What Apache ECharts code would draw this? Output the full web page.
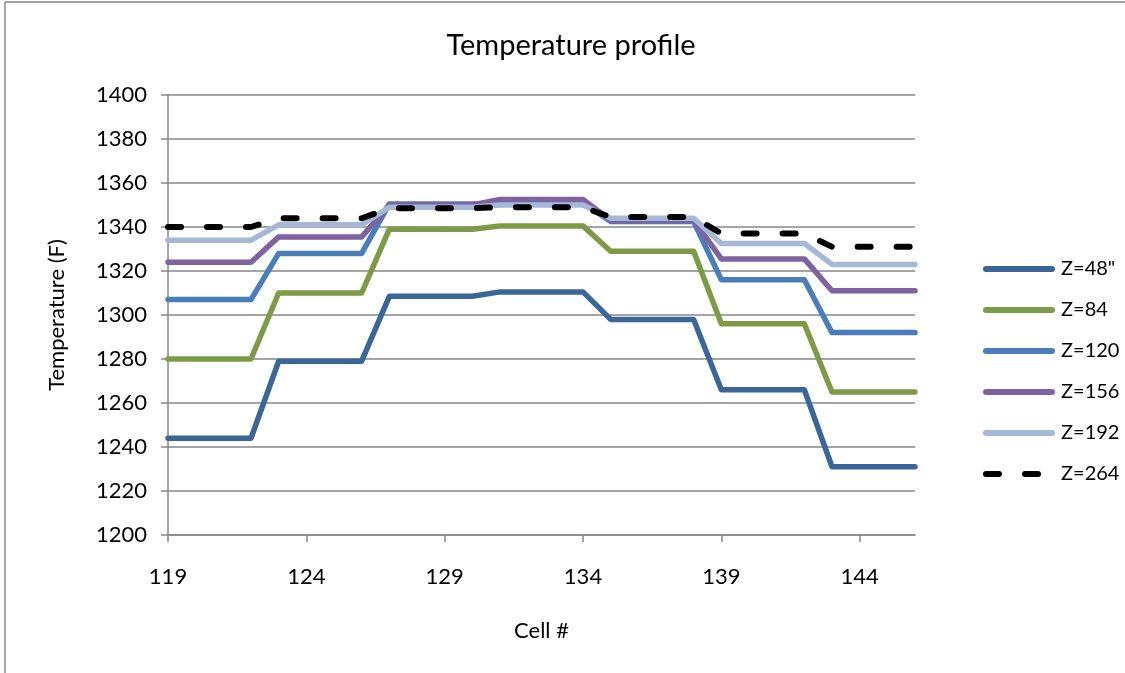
<!DOCTYPE html>
<html>
<head>
<meta charset="utf-8">
<script src="https://cdn.jsdelivr.net/npm/echarts@6/dist/echarts.min.js"></script>
<style>html,body{margin:0;padding:0;background:#fff;}#c{width:1125px;height:673px;}</style>
</head>
<body>
<div id="c"></div>
<script>
var cells = [119,120,121,122,123,124,125,126,127,128,129,130,131,132,133,134,135,136,137,138,139,140,141,142,143,144,145,146];
var seriesNames = ['Z=48"', 'Z=84', 'Z=120', 'Z=156', 'Z=192', 'Z=264'];
var z48  = [1244,1244,1244,1244, 1279,1279,1279,1279, 1308.5,1308.5,1308.5,1308.5, 1310.5,1310.5,1310.5,1310.5, 1298,1298,1298,1298, 1266,1266,1266,1266, 1231,1231,1231,1231];
var z84  = [1280,1280,1280,1280, 1310,1310,1310,1310, 1339,1339,1339,1339, 1340.5,1340.5,1340.5,1340.5, 1329,1329,1329,1329, 1296,1296,1296,1296, 1265,1265,1265,1265];
var z120 = [1307,1307,1307,1307, 1328,1328,1328,1328, 1350.5,1350.5,1350.5,1350.5, 1351,1351,1351,1351, 1342.5,1342.5,1342.5,1342.5, 1316,1316,1316,1316, 1292,1292,1292,1292];
var z156 = [1324,1324,1324,1324, 1335.5,1335.5,1335.5,1335.5, 1350,1350,1350,1350, 1352.5,1352.5,1352.5,1352.5, 1343,1343,1343,1343, 1325.5,1325.5,1325.5,1325.5, 1311,1311,1311,1311];
var z192 = [1334,1334,1334,1334, 1341,1341,1341,1341, 1349,1349,1349,1349, 1350,1350,1350,1350, 1344,1344,1344,1344, 1332.5,1332.5,1332.5,1332.5, 1323,1323,1323,1323];
var z264 = [1340,1340,1340,1340, 1344,1344,1344,1344, 1348.5,1348.5,1348.5,1348.5, 1349,1349,1349,1349, 1344.5,1344.5,1344.5,1344.5, 1337,1337,1337,1337, 1331,1331,1331,1331];
var yTicks = [1200,1220,1240,1260,1280,1300,1320,1340,1360,1380,1400];

var colors = ['#3b6698', '#7c9b46', '#4a7ebb', '#7f63a1', '#a6b8d7', '#000000'];
var allData = [z48, z84, z120, z156, z192, z264];
var FONT = 'Lato, "Open Sans", sans-serif';

var series = seriesNames.map(function (name, i) {
  var dashed = i === 5;
  return {
    name: name,
    type: 'line',
    data: allData[i],
    symbol: 'none',
    smooth: false,
    lineStyle: {
      color: colors[i],
      width: dashed ? 6 : 5.5,
      type: dashed ? [13, 26] : 'solid',
      cap: 'round',
      join: 'round'
    },
    itemStyle: { color: colors[i] }
  };
});

var chart = echarts.init(document.getElementById('c'), null, { renderer: 'canvas' });
chart.setOption({
  animation: false,
  backgroundColor: '#ffffff',
  title: {
    text: 'Temperature profile',
    left: 566,
    textAlign: 'center',
    top: 26,
    textStyle: { fontFamily: FONT, fontSize: 29, fontWeight: 'normal', color: '#000' }
  },
  grid: { left: 168, right: 210, top: 95, bottom: 138, containLabel: false },
  legend: {
    orient: 'vertical',
    left: 978,
    top: 254,
    itemWidth: 66,
    itemHeight: 18,
    itemGap: 21,
    itemStyle: { opacity: 0 },
    lineStyle: { width: 6, cap: 'round' },
    textStyle: { fontFamily: FONT, fontSize: 20, color: '#000', padding: [0, 0, 0, 4] },
    data: seriesNames
  },
  xAxis: {
    type: 'category',
    data: cells,
    boundaryGap: false,
    name: 'Cell #',
    nameLocation: 'middle',
    nameGap: 85,
    nameTextStyle: { fontFamily: FONT, fontSize: 22, color: '#000' },
    axisLine: { lineStyle: { color: '#878787', width: 1.5 } },
    axisTick: { interval: 4, length: 7, lineStyle: { color: '#878787', width: 1.5 } },
    axisLabel: { interval: 4, margin: 31, fontFamily: FONT, fontSize: 22, color: '#000' },
    splitLine: { show: false }
  },
  yAxis: {
    type: 'value',
    min: yTicks[0],
    max: yTicks[yTicks.length - 1],
    interval: 20,
    name: 'Temperature (F)',
    nameLocation: 'middle',
    nameGap: 100,
    nameTextStyle: { fontFamily: FONT, fontSize: 22, color: '#000' },
    axisLine: { show: true, lineStyle: { color: '#878787', width: 1.5 } },
    axisTick: { show: true, length: 7, lineStyle: { color: '#878787', width: 1.5 } },
    axisLabel: { margin: 21, fontFamily: FONT, fontSize: 22, color: '#000', formatter: function (v) { return String(v); } },
    splitLine: { lineStyle: { color: '#878787', width: 1.5 } }
  },
  graphic: [
    { type: 'line', shape: { x1: 5, y1: 2, x2: 1125, y2: 2 }, style: { stroke: '#878787', lineWidth: 1.5 } },
    { type: 'line', shape: { x1: 5, y1: 2, x2: 5, y2: 673 }, style: { stroke: '#878787', lineWidth: 1.5 } }
  ],
  series: series
});
</script>
</body>
</html>
